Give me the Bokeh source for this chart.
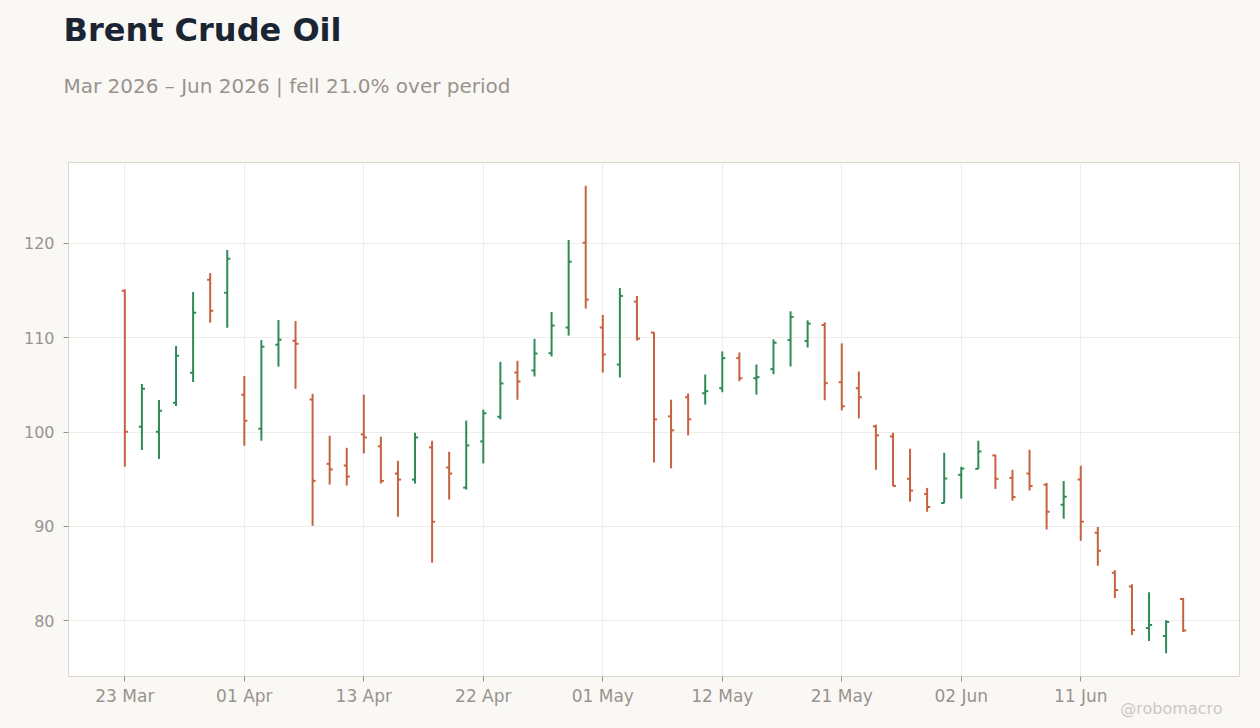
import pandas as pd
from bokeh.plotting import figure
from bokeh.models import Range1d, FixedTicker, SingleIntervalTicker, Title, ColumnDataSource
from bokeh.embed import file_html
from bokeh.resources import INLINE

# ---- data (Brent crude, daily OHLC, trading days) ----
dates = [
    "2026-03-23", "2026-03-24", "2026-03-25", "2026-03-26", "2026-03-27", "2026-03-30", "2026-03-31",
    "2026-04-01", "2026-04-02", "2026-04-06", "2026-04-07", "2026-04-08", "2026-04-09", "2026-04-10",
    "2026-04-13", "2026-04-14", "2026-04-15", "2026-04-16", "2026-04-17", "2026-04-20", "2026-04-21",
    "2026-04-22", "2026-04-23", "2026-04-24", "2026-04-27", "2026-04-28", "2026-04-29", "2026-04-30",
    "2026-05-01", "2026-05-04", "2026-05-05", "2026-05-06", "2026-05-07", "2026-05-08", "2026-05-11",
    "2026-05-12", "2026-05-13", "2026-05-14", "2026-05-15", "2026-05-18", "2026-05-19", "2026-05-20",
    "2026-05-21", "2026-05-22", "2026-05-26", "2026-05-27", "2026-05-28", "2026-05-29", "2026-06-01",
    "2026-06-02", "2026-06-03", "2026-06-04", "2026-06-05", "2026-06-08", "2026-06-09", "2026-06-10",
    "2026-06-11", "2026-06-12", "2026-06-15", "2026-06-16", "2026-06-17", "2026-06-18", "2026-06-19",
]
open_ = [114.98, 100.57, 100.04, 103.11, 106.29, 116.15, 114.77,
         103.96, 100.35, 109.26, 109.68, 103.45, 96.63, 96.45,
         99.75, 98.48, 95.60, 94.96, 98.37, 96.24, 94.11,
         99.01, 101.62, 106.31, 106.53, 108.36, 111.08, 120.07,
         111.08, 107.16, 113.83, 110.55, 101.66, 103.69, 104.11,
         104.65, 107.84, 105.71, 106.67, 109.75, 109.65, 111.35,
         105.28, 104.65, 100.60, 99.54, 95.04, 93.44, 92.48,
         95.46, 96.10, 97.52, 95.14, 95.60, 94.42, 92.28,
         94.96, 89.33, 85.07, 83.62, 79.22, 78.37, 82.30]
high = [115.12, 105.09, 103.39, 109.12, 114.84, 116.86, 119.29,
        105.94, 109.75, 111.87, 111.77, 104.05, 99.61, 98.33,
        103.97, 99.50, 96.95, 99.93, 99.08, 97.91, 101.21,
        102.37, 107.44, 107.55, 109.88, 112.73, 120.35, 126.10,
        112.42, 115.27, 114.43, 110.58, 103.43, 104.08, 106.10,
        108.55, 108.44, 107.16, 109.82, 112.80, 111.84, 111.63,
        109.40, 106.42, 100.78, 99.93, 98.23, 94.08, 97.80,
        96.31, 99.08, 97.59, 95.99, 98.12, 94.61, 94.82,
        96.42, 89.93, 85.35, 83.87, 83.01, 80.04, 82.41]
low = [96.33, 98.09, 97.14, 102.76, 105.30, 111.59, 111.06,
       98.55, 99.08, 106.93, 104.59, 90.07, 94.43, 94.33,
       97.73, 94.54, 91.03, 94.54, 86.13, 92.84, 93.90,
       96.68, 101.34, 103.42, 105.89, 108.01, 110.23, 113.09,
       106.31, 105.78, 109.70, 96.78, 96.15, 99.65, 102.91,
       104.22, 105.39, 103.97, 106.13, 106.95, 108.97, 103.37,
       102.30, 101.45, 95.99, 94.26, 92.62, 91.56, 92.45,
       92.94, 96.08, 93.97, 92.73, 93.79, 89.67, 90.80,
       88.48, 85.82, 82.41, 78.48, 77.84, 76.56, 78.79]
close = [100.04, 104.59, 102.26, 108.09, 112.65, 112.86, 118.37,
         101.20, 109.05, 109.79, 109.36, 94.83, 96.03, 95.28,
         99.43, 94.82, 94.96, 99.43, 90.50, 95.60, 98.58,
         101.99, 105.15, 105.36, 108.32, 111.29, 118.06, 114.04,
         108.22, 114.43, 109.91, 101.34, 100.18, 101.35, 104.33,
         107.84, 105.71, 105.82, 109.47, 112.20, 111.49, 105.18,
         102.73, 103.69, 99.65, 94.29, 93.79, 92.06, 95.07,
         96.13, 97.94, 95.04, 93.12, 94.29, 91.56, 93.14,
         90.50, 87.41, 83.26, 79.01, 79.54, 79.86, 78.97]

title_text = "Brent Crude Oil"
subtitle_text = "Mar 2026 \u2013 Jun 2026 | fell 21.0% over period"
watermark = "@robomacro"

# ---- styling ----
UP = "#2e8b57"
DOWN = "#c8613f"
BG = "#f9f8f5"
MUTED = "#99938d"
FONT = "DejaVu Sans"
TICK_HALF = 0.18
X_PAD = 3.3

n = len(dates)
idx = list(range(n))
colors = [UP if c >= o else DOWN for o, c in zip(open_, close)]
src = ColumnDataSource(dict(
    x=idx, xl=[i - TICK_HALF for i in idx], xr=[i + TICK_HALF for i in idx],
    o=open_, h=high, l=low, c=close, color=colors,
))

lo, hi = min(low), max(high)
pad = 0.05 * (hi - lo)

p = figure(width=1260, height=728, output_backend="svg", toolbar_location=None,
           x_range=Range1d(-X_PAD, n - 1 + X_PAD), y_range=Range1d(lo - pad, hi + pad),
           min_border_left=68, min_border_right=21, min_border_top=162, min_border_bottom=52,
           background_fill_color="white", border_fill_color=BG)

p.segment(x0="x", y0="l", x1="x", y1="h", line_color="color", line_width=2, source=src)
p.segment(x0="xl", y0="o", x1="x", y1="o", line_color="color", line_width=2, source=src)
p.segment(x0="x", y0="c", x1="xr", y1="c", line_color="color", line_width=2, source=src)

tick_pos = list(range(0, n, 7))
p.xaxis.ticker = FixedTicker(ticks=tick_pos)
p.xaxis.major_label_overrides = {i: pd.Timestamp(dates[i]).strftime("%d %b") for i in tick_pos}
p.yaxis.ticker = SingleIntervalTicker(interval=10)

for ax in (p.xaxis, p.yaxis):
    ax.axis_line_color = None
    ax.minor_tick_line_color = None
    ax.major_tick_in = 0
    ax.major_tick_out = 5
    ax.major_tick_line_color = MUTED
    ax.major_label_text_color = MUTED
    ax.major_label_text_font = FONT
p.xaxis.major_label_text_font_size = "17px"
p.yaxis.major_label_text_font_size = "16px"
p.xaxis.major_label_standoff = 4
p.yaxis.major_label_standoff = 9

p.xgrid.grid_line_color = "#efedeb"
p.ygrid.grid_line_color = "#efedeb"
p.outline_line_color = "#dcd6cf"
p.outline_line_width = 1

# watermark: right-aligned title below the axis, pulled up beside the tick labels
wm_kw = dict(text=watermark, align="right", offset=17, vertical_align="top",
             text_font=FONT, text_font_size="16px", text_font_style="normal",
             text_color="#cdc8c2")
try:
    wm = Title(standoff=-20, **wm_kw)
except Exception:
    wm = Title(standoff=0, **wm_kw)
p.add_layout(wm, "below")

# titles (above panels stack outward from the frame)
p.add_layout(Title(text=" ", align="left", standoff=29, text_font=FONT,
                   text_font_size="10px"), "above")
p.add_layout(Title(text=subtitle_text, align="left", offset=-5, standoff=46,
                   text_font=FONT, text_font_size="20px", text_font_style="normal",
                   text_color=MUTED), "above")
p.add_layout(Title(text=title_text, align="left", offset=-5, standoff=0,
                   text_font=FONT, text_font_size="32px", text_font_style="bold",
                   text_color="#1b2433"), "above")

html = file_html(p, INLINE, title="Brent Crude Oil")
html = html.replace("</head>", "<style>html,body{background:%s;}</style></head>" % BG, 1)
open("out.html", "w").write(html)
